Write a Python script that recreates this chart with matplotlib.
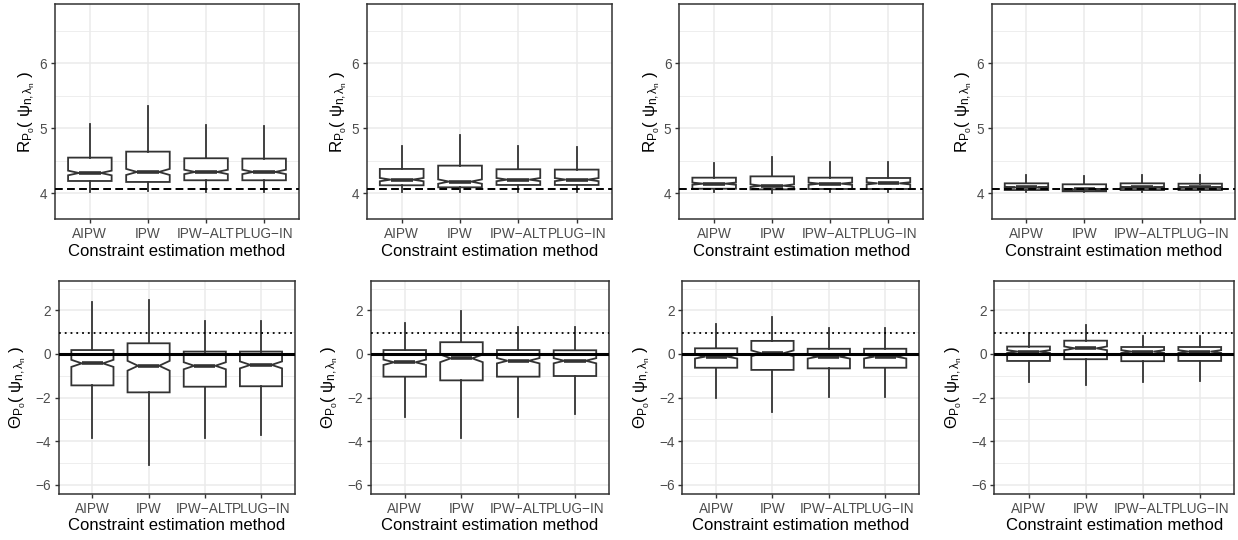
import matplotlib
matplotlib.use('Agg')
import matplotlib.pyplot as plt
import numpy as np

plt.rcParams['font.family'] = ['Liberation Sans', 'DejaVu Sans']
plt.rcParams['mathtext.fontset'] = 'custom'
plt.rcParams['mathtext.rm'] = 'Liberation Sans'
plt.rcParams['mathtext.it'] = 'Liberation Sans'
plt.rcParams['mathtext.bf'] = 'Liberation Sans:bold'
plt.rcParams['mathtext.fallback'] = 'stixsans'
plt.rcParams['axes.unicode_minus'] = True

# ---------------- data ----------------
categories = ['AIPW', 'IPW', 'IPW-ALT', 'PLUG-IN']
n_reps = 250  # replications per box (used for notch width)

# Top row: risk R_P0(psi_n,lambda_n), one list per panel
risk_whislo = [[4.025, 4.030, 4.025, 4.025],
               [4.025, 4.020, 4.025, 4.025],
               [4.020, 4.010, 4.020, 4.020],
               [4.020, 4.020, 4.020, 4.020]]
risk_q1 = [[4.189, 4.174, 4.200, 4.200],
           [4.123, 4.092, 4.128, 4.128],
           [4.070, 4.060, 4.066, 4.066],
           [4.050, 4.030, 4.050, 4.050]]
risk_med = [[4.312, 4.328, 4.328, 4.328],
            [4.210, 4.180, 4.210, 4.210],
            [4.148, 4.117, 4.148, 4.153],
            [4.090, 4.060, 4.090, 4.090]]
risk_q3 = [[4.548, 4.640, 4.538, 4.533],
           [4.374, 4.425, 4.369, 4.364],
           [4.240, 4.260, 4.240, 4.235],
           [4.153, 4.138, 4.153, 4.148]]
risk_whishi = [[5.066, 5.343, 5.046, 5.035],
               [4.733, 4.900, 4.733, 4.707],
               [4.471, 4.563, 4.480, 4.476],
               [4.280, 4.266, 4.280, 4.277]]
risk_optimal = 4.065

# Bottom row: constraint Theta_P0(psi_n,lambda_n)
con_whislo = [[-3.84, -5.09, -3.84, -3.73],
              [-2.87, -3.85, -2.87, -2.75],
              [-2.00, -2.68, -1.96, -1.96],
              [-1.27, -1.42, -1.27, -1.22]]
con_q1 = [[-1.44, -1.76, -1.50, -1.48],
          [-1.04, -1.21, -1.04, -1.01],
          [-0.63, -0.73, -0.66, -0.63],
          [-0.32, -0.24, -0.33, -0.32]]
con_med = [[-0.43, -0.54, -0.54, -0.50],
           [-0.38, -0.20, -0.31, -0.31],
           [-0.12, 0.03, -0.12, -0.12],
           [0.11, 0.26, 0.11, 0.11]]
con_q3 = [[0.18, 0.49, 0.11, 0.11],
          [0.18, 0.54, 0.18, 0.17],
          [0.26, 0.60, 0.24, 0.24],
          [0.34, 0.61, 0.32, 0.32]]
con_whishi = [[2.37, 2.48, 1.53, 1.53],
              [1.41, 1.99, 1.22, 1.22],
              [1.36, 1.68, 1.18, 1.18],
              [0.98, 1.33, 0.84, 0.84]]
con_bound = 0.97
con_zero = 0.0

risk_ticks = [4, 5, 6]
con_ticks = [-6, -4, -2, 0, 2]

xlab = 'Constraint estimation method'
risk_label = r'$\mathrm{R}_{\mathrm{P}_0}(\ \psi_{n,\lambda_n}\ )$'
con_label = r'$\Theta_{\mathrm{P}_0}(\ \psi_{n,\lambda_n}\ )$'

# ---------------- layout ----------------
W, H = 1238, 540
fig = plt.figure(figsize=(W / 100, H / 100), dpi=100)

top_x = [(55, 299), (366.7, 611.7), (679.3, 923.3), (991.7, 1235)]
bot_x = [(58.7, 294.7), (370.7, 609), (682.3, 919), (994.3, 1234)]
top_y = (4, 219)
bot_y = (280.7, 494)

GREY20 = '#333333'
GREY30 = '#4D4D4D'
GREY92 = '#EBEBEB'


def make_ax(xr, yr):
    l, r = xr
    t, b = yr
    return fig.add_axes([l / W, (H - b) / H, (r - l) / W, (b - t) / H])


def draw_panel(ax, wl, q1, md, q3, wh, ylim, ticks, minor, ylabel, lab_off, wpx, hpx):
    positions = np.arange(1, len(categories) + 1)
    stats = []
    for i in range(len(categories)):
        iqr = q3[i] - q1[i]
        notch = 1.58 * iqr / np.sqrt(n_reps)
        stats.append(dict(med=md[i], q1=q1[i], q3=q3[i], whislo=wl[i], whishi=wh[i],
                          cilo=md[i] - notch, cihi=md[i] + notch, fliers=[]))
    ax.bxp(stats, positions=positions, widths=0.75, shownotches=True,
           showcaps=False, showfliers=False, patch_artist=True, manage_ticks=False,
           boxprops=dict(facecolor='white', edgecolor=GREY20, linewidth=1.3),
           whiskerprops=dict(color=GREY20, linewidth=1.3),
           medianprops=dict(color=GREY20, linewidth=2.6, solid_capstyle='butt'),
           zorder=2)
    ax.set_xlim(0.4, len(categories) + 0.6)
    ax.set_ylim(*ylim)
    ax.set_xticks(positions)
    ax.set_xticklabels([c.replace('-', '\u2212') for c in categories])
    ax.set_yticks(ticks)
    ax.set_yticks(minor, minor=True)
    ax.grid(True, which='major', color=GREY92, linewidth=1.1, zorder=0)
    ax.grid(True, which='minor', axis='y', color=GREY92, linewidth=0.6, zorder=0)
    ax.set_axisbelow(True)
    ax.tick_params(axis='both', which='major', length=3.2, width=1.0, color=GREY20,
                   labelsize=9.8, labelcolor=GREY30, pad=2.4)
    ax.tick_params(axis='both', which='minor', length=0)
    for s in ax.spines.values():
        s.set_color(GREY20)
        s.set_linewidth(1.1)
    ax.set_xlabel(xlab, fontsize=12)
    ax.xaxis.label.set_va('center')
    ax.xaxis.set_label_coords(0.5, -32 / hpx)
    ax.set_ylabel(ylabel, fontsize=12.2)
    ax.yaxis.label.set_va('center')
    ax.yaxis.set_label_coords(-lab_off / wpx, 0.5)


for p in range(4):
    ax = make_ax(top_x[p], top_y)
    wpx = top_x[p][1] - top_x[p][0]
    hpx = top_y[1] - top_y[0]
    draw_panel(ax, risk_whislo[p], risk_q1[p], risk_med[p], risk_q3[p], risk_whishi[p],
               (3.605, 6.908), risk_ticks, [4.5, 5.5, 6.5], risk_label, 28, wpx, hpx)
    ax.axhline(risk_optimal, color='black', linewidth=1.4, linestyle=(0, (4, 2.2)), zorder=3)

for p in range(4):
    ax = make_ax(bot_x[p], bot_y)
    wpx = bot_x[p][1] - bot_x[p][0]
    hpx = bot_y[1] - bot_y[0]
    draw_panel(ax, con_whislo[p], con_q1[p], con_med[p], con_q3[p], con_whishi[p],
               (-6.42, 3.36), con_ticks, [-5, -3, -1, 1, 3], con_label, 41, wpx, hpx)
    ax.axhline(con_zero, color='black', linewidth=2.2, zorder=3)
    ax.axhline(con_bound, color='black', linewidth=1.3, linestyle=(0, (1, 2.2)), zorder=3)

fig.savefig('out.png', dpi=100)
